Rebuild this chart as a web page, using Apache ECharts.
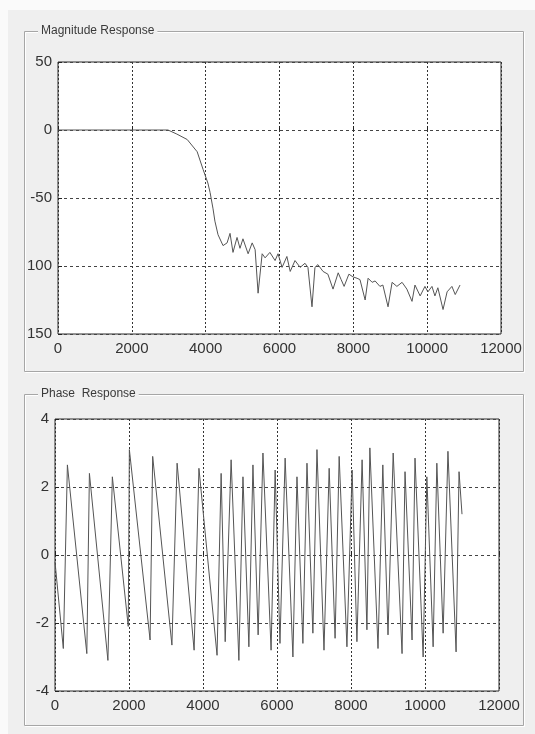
<!DOCTYPE html>
<html>
<head>
<meta charset="utf-8">
<script src="https://cdn.jsdelivr.net/npm/echarts@6/dist/echarts.min.js"></script>
<style>
  html, body { margin: 0; padding: 0; background: #fafafa; }
  #chart { width: 535px; height: 734px; }
</style>
</head>
<body>
<div id="chart"></div>
<script>
// Filter magnitude response (dB) against frequency (Hz)
const magFreq = [0, 2980, 3220, 3500, 3770, 3930, 4060, 4120, 4200, 4250, 4335, 4470, 4580, 4660, 4740, 4850, 4930, 5010, 5150, 5260, 5340, 5420, 5530, 5610, 5740, 5880, 5960, 6070, 6200, 6290, 6420, 6560, 6690, 6770, 6880, 6960, 7040, 7180, 7310, 7450, 7590, 7670, 7750, 7880, 7990, 8100, 8180, 8320, 8400, 8510, 8590, 8720, 8800, 8940, 9050, 9180, 9320, 9450, 9590, 9670, 9810, 9940, 10020, 10130, 10210, 10290, 10430, 10540, 10670, 10760, 10890];
const magDb   = [0, 0, -3, -7, -16, -29, -39, -46, -58, -67, -77, -85, -83, -76, -90, -79, -87, -80, -91, -83, -88, -120, -91, -94, -90, -96, -91, -101, -93, -104, -96, -101, -98, -101, -130, -101, -99, -104, -106, -117, -105, -110, -115, -106, -108, -109, -110, -125, -109, -112, -111, -115, -114, -130, -112, -115, -112, -117, -126, -114, -122, -115, -119, -115, -122, -116, -132, -119, -115, -121, -114];

// Phase response (rad) against frequency (Hz)
const phaseFreq = [0, 225, 335, 860, 930, 1430, 1550, 1980, 2010, 2570, 2640, 3160, 3300, 3760, 3890, 4380, 4490, 4600, 4760, 4970, 5080, 5240, 5350, 5490, 5620, 5840, 5950, 6080, 6220, 6430, 6540, 6700, 6810, 6970, 7080, 7270, 7410, 7570, 7680, 7890, 8030, 8160, 8300, 8430, 8510, 8730, 8860, 9000, 9140, 9380, 9460, 9650, 9730, 9950, 10050, 10220, 10320, 10490, 10620, 10840, 10920, 11000];
const phaseRad  = [-0.2, -2.75, 2.65, -2.9, 2.4, -3.1, 2.3, -2.1, 3.1, -2.5, 2.9, -2.65, 2.7, -2.8, 2.55, -2.95, 2.4, -2.55, 2.8, -3.1, 2.3, -2.7, 2.65, -2.35, 3.0, -2.8, 2.5, -2.6, 2.85, -3.0, 2.3, -2.6, 2.7, -2.3, 3.1, -2.8, 2.55, -2.45, 2.9, -2.7, 2.5, -2.55, 2.8, -2.2, 3.15, -2.75, 2.65, -2.35, 3.0, -2.9, 2.45, -2.5, 2.85, -3.0, 2.3, -2.7, 2.7, -2.3, 3.05, -2.85, 2.45, 1.2];

// Axis ticks and their printed labels
const freqTicks = [0, 2000, 4000, 6000, 8000, 10000, 12000];
const freqTickLabels = ['0', '2000', '4000', '6000', '8000', '10000', '12000'];
const magTicks = [-150, -100, -50, 0, 50];
const magTickLabels = ['150', '100', '-50', '0', '50'];
const phaseTicks = [-4, -2, 0, 2, 4];
const phaseTickLabels = ['-4', '-2', '0', '2', '4'];

const panelTitles = ['Magnitude Response', 'Phase  Response'];

const magData = magFreq.map((f, i) => [f, magDb[i]]);
const phaseData = phaseFreq.map((f, i) => [f, phaseRad[i]]);

const FONT = 'Liberation Sans, Arial, sans-serif';
const PANEL = '#efefef';

function labelFor(ticks, labels) {
  return v => { const k = ticks.indexOf(v); return k >= 0 ? labels[k] : ''; };
}

function xAxisCfg(gridIndex) {
  return {
    type: 'value', gridIndex,
    min: freqTicks[0], max: freqTicks[freqTicks.length - 1],
    interval: freqTicks[1] - freqTicks[0],
    axisLine: { show: false },
    axisTick: { show: true, inside: true, length: 4, lineStyle: { color: '#222' } },
    axisLabel: { color: '#333', fontSize: 15, fontFamily: FONT, margin: 7,
                 formatter: labelFor(freqTicks, freqTickLabels) },
    splitLine: { show: true, lineStyle: { color: '#333', type: [2, 2], width: 1 } }
  };
}

function yAxisCfg(gridIndex, ticks, labels) {
  return {
    type: 'value', gridIndex,
    min: ticks[0], max: ticks[ticks.length - 1],
    interval: ticks[1] - ticks[0],
    axisLine: { show: false },
    axisTick: { show: true, inside: true, length: 4, lineStyle: { color: '#222' } },
    axisLabel: { color: '#333', fontSize: 15, fontFamily: FONT, margin: 6,
                 formatter: labelFor(ticks, labels) },
    splitLine: { show: true, lineStyle: { color: '#444', type: [3, 3], width: 1 } }
  };
}

function groupBox(x, y, w, h, title) {
  return [
    { type: 'rect', z: -8, shape: { x: x + 0.5, y: y + 0.5, width: w, height: h },
      style: { fill: 'none', stroke: '#a6a6a6', lineWidth: 1 } },
    { type: 'rect', z: -9, shape: { x: x + 1.5, y: y + 1.5, width: w, height: h },
      style: { fill: 'none', stroke: '#ffffff', lineWidth: 1 } },
    { type: 'text', z: -7, x: x + 14, y: y,
      style: { text: title, font: '12px ' + FONT, fill: '#3a3a3a',
               verticalAlign: 'middle', backgroundColor: PANEL, padding: [1, 3] } }
  ];
}

const chart = echarts.init(document.getElementById('chart'), null, { renderer: 'canvas' });

chart.setOption({
  animation: false,
  backgroundColor: '#fafafa',
  graphic: [
    { type: 'rect', z: -10, shape: { x: 8, y: 10, width: 527, height: 724 }, style: { fill: PANEL } },
    ...groupBox(24, 31, 499, 340, panelTitles[0]),
    ...groupBox(24, 394, 499, 331, panelTitles[1])
  ],
  grid: [
    { left: 58, top: 62, width: 443, height: 272, show: true,
      backgroundColor: '#ffffff', borderColor: '#2a2a2a', borderWidth: 1 },
    { left: 55, top: 419, width: 444, height: 272, show: true,
      backgroundColor: '#ffffff', borderColor: '#2a2a2a', borderWidth: 1 }
  ],
  xAxis: [xAxisCfg(0), xAxisCfg(1)],
  yAxis: [yAxisCfg(0, magTicks, magTickLabels), yAxisCfg(1, phaseTicks, phaseTickLabels)],
  series: [
    { type: 'line', xAxisIndex: 0, yAxisIndex: 0, data: magData, showSymbol: false,
      lineStyle: { color: '#555555', width: 1 }, silent: true },
    { type: 'line', xAxisIndex: 1, yAxisIndex: 1, data: phaseData, showSymbol: false,
      lineStyle: { color: '#555555', width: 1 }, silent: true }
  ]
});
</script>
</body>
</html>
